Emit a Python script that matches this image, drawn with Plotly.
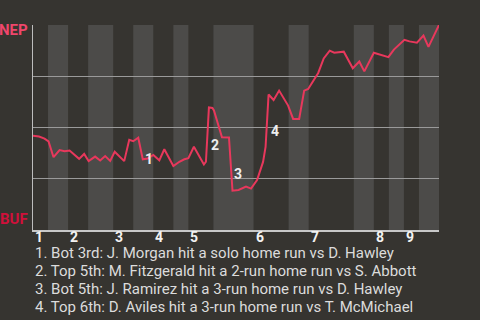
import plotly.graph_objects as go

# Win probability after each play (1 = NEP wins, 0 = BUF wins)
play = [0, 1.2, 2.3, 3.1, 4.1, 5.3, 6.3, 7.3, 9.2, 10.2, 11.1, 12.4, 13.4, 14.4, 15.4,
        16.3, 18.2, 19.2, 20.0, 21.0, 21.9, 22.9, 24.0, 25.2, 26.2, 28.0, 29.2, 30.2,
        31.0, 32.1, 34.1, 34.5, 35.1, 35.8, 36.1, 37.0, 37.7, 39.1, 39.8, 41.0, 42.5,
        43.5, 44.7, 45.9, 46.4, 47.0, 48.0, 49.1, 50.9, 51.9, 53.1, 54.1, 54.9, 56.9,
        58.0, 59.2, 60.1, 62.0, 63.8, 65.1, 66.1, 68.0, 69.3, 70.9, 72.0, 74.1, 75.1,
        76.6, 77.9, 78.9, 81.0]
nep_wp = [0.460, 0.456, 0.446, 0.432, 0.355, 0.390, 0.384, 0.388, 0.347, 0.371, 0.336,
          0.358, 0.339, 0.361, 0.337, 0.382, 0.336, 0.440, 0.433, 0.450, 0.345, 0.349,
          0.366, 0.340, 0.394, 0.312, 0.333, 0.345, 0.350, 0.406, 0.320, 0.333, 0.598,
          0.595, 0.583, 0.512, 0.452, 0.451, 0.192, 0.195, 0.212, 0.202, 0.244, 0.332,
          0.405, 0.661, 0.634, 0.680, 0.607, 0.542, 0.542, 0.680, 0.688, 0.766, 0.837,
          0.875, 0.865, 0.870, 0.789, 0.822, 0.774, 0.865, 0.854, 0.843, 0.880, 0.928,
          0.920, 0.914, 0.948, 0.893, 1.000]

# Half-inning boundaries (in plays) and inning labels
half_inning_edges = [0, 3, 7, 11, 16, 20, 24, 28, 31, 36, 44, 51, 55, 64, 68, 71, 74, 77, 81]
innings = ["1", "2", "3", "4", "5", "6", "7", "8", "9"]

# Home runs: index of the play in the series, and its description
hr_points = [20, 32, 38, 45]
hr_notes = [
    "Bot 3rd: J. Morgan hit a solo home run vs D. Hawley",
    "Top 5th: M. Fitzgerald hit a 2-run home run vs S. Abbott",
    "Bot 5th: J. Ramirez hit a 3-run home run vs D. Hawley",
    "Top 6th: D. Aviles hit a 3-run home run vs T. McMichael",
]

away_team, home_team = "NEP", "BUF"

BG = "#363430"
BAND = "#4c4b49"
LINE = "#e8385c"
FONT = "Roboto"

fig = go.Figure()
fig.add_trace(go.Scatter(
    x=play, y=nep_wp, mode="lines",
    line=dict(color=LINE, width=2), cliponaxis=False, hoverinfo="skip",
))

# Shade the bottom half of every inning
shapes = []
for i in range(1, len(half_inning_edges) - 1, 2):
    shapes.append(dict(
        type="rect", xref="x", yref="paper",
        x0=half_inning_edges[i], x1=half_inning_edges[i + 1], y0=0, y1=1,
        fillcolor=BAND, line=dict(width=0), layer="below",
    ))

annotations = []
# Home run markers, placed at the mid-point of the swing
for n, idx in enumerate(hr_points, start=1):
    mid = (nep_wp[idx - 1] + nep_wp[idx]) / 2
    annotations.append(dict(
        x=play[idx], y=mid, xref="x", yref="y", text=str(n),
        showarrow=False, xanchor="left", yanchor="top",
        font=dict(family=FONT, size=14, color="#eeeeee", weight="bold"),
    ))

# Team labels at the ends of the scale
annotations.append(dict(
    x=-0.008, y=0.975, xref="paper", yref="paper", text=away_team,
    showarrow=False, xanchor="right", yanchor="middle",
    font=dict(family=FONT, size=15, color="#f0466c", weight="bold"),
))
annotations.append(dict(
    x=-0.008, y=0.055, xref="paper", yref="paper", text=home_team,
    showarrow=False, xanchor="right", yanchor="middle",
    font=dict(family=FONT, size=15, color="#d0103a", weight="bold"),
))

# Inning numbers at the start of each inning
for k, lab in enumerate(innings):
    annotations.append(dict(
        x=half_inning_edges[2 * k], y=-0.035, xref="x", yref="paper", text=lab,
        showarrow=False, xanchor="left", yanchor="middle",
        font=dict(family=FONT, size=14, color="#f2f2f2", weight="bold"),
    ))

# Home run legend below the chart
for n, note in enumerate(hr_notes, start=1):
    annotations.append(dict(
        x=0.0, y=-0.114 - (n - 1) * 0.0868, xref="paper", yref="paper",
        text=f"{n}. {note}", showarrow=False, xanchor="left", yanchor="middle",
        font=dict(family=FONT, size=15, color="#dcdcdc"),
    ))

fig.update_layout(
    width=480, height=320,
    margin=dict(l=33, r=41, t=25, b=90),
    paper_bgcolor=BG, plot_bgcolor=BG,
    showlegend=False,
    shapes=shapes, annotations=annotations,
    xaxis=dict(range=[0, 81], showgrid=False, zeroline=False,
               showticklabels=False, ticks="",
               showline=True, linecolor="#c8c8c8", linewidth=2, fixedrange=True),
    yaxis=dict(range=[0, 1], tickvals=[0.25, 0.5, 0.75, 1.0], showticklabels=False,
               showgrid=True, gridcolor="#9a9a9a", gridwidth=1, zeroline=False,
               showline=True, linecolor="#bdbdbd", linewidth=1, ticks="",
               fixedrange=True),
)

fig.write_html("out.html", config={"displayModeBar": False})
